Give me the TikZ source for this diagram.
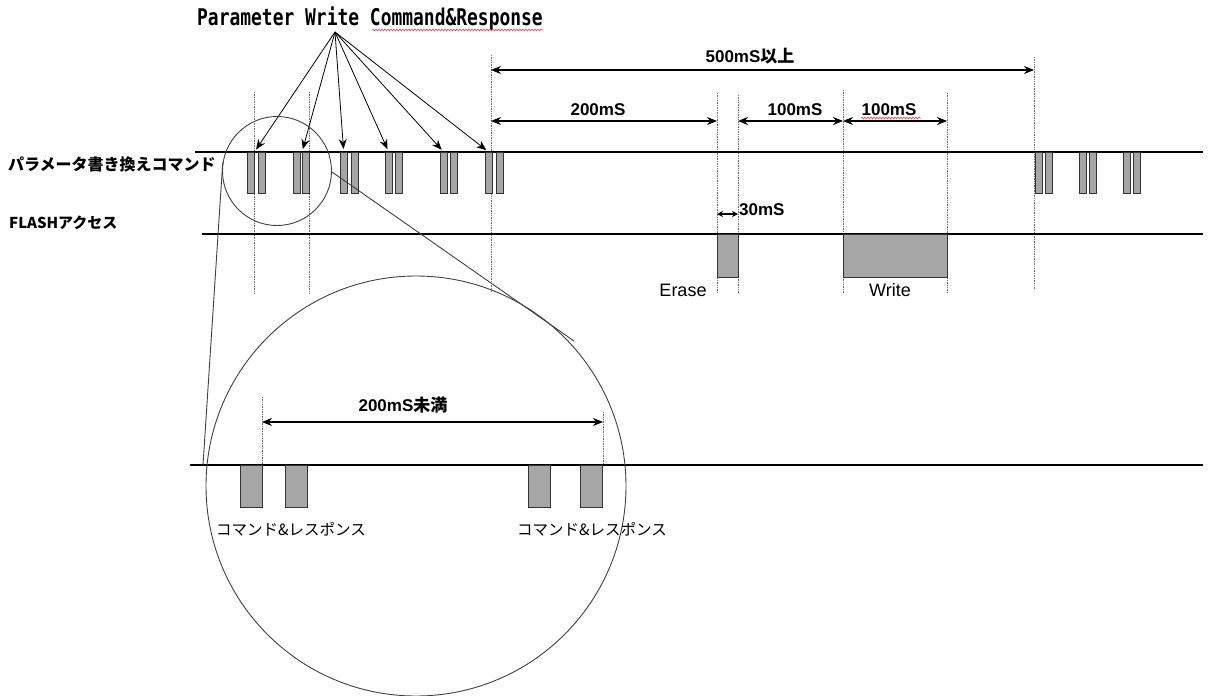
\documentclass[tikz,border=0pt]{standalone}
\usepackage{fontspec}
\usepackage{graphicx}
\setmainfont{Liberation Sans}
\newfontfamily\jpfont{Noto Sans CJK JP}
\newfontfamily\ttlfont{DejaVu Sans Mono}
\usetikzlibrary{arrows.meta,positioning,calc,decorations.pathmorphing}
\definecolor{barfill}{HTML}{A6A6A6}
\definecolor{guidegray}{HTML}{707070}
\definecolor{spellred}{HTML}{E04040}
\newcommand{\fs}[1]{\fontsize{#1}{#1}\selectfont}

\begin{document}
\begin{tikzpicture}[x=1pt, y=-1pt,
    bar/.style={rectangle, draw=black!80, fill=barfill, line width=0.9pt, inner sep=0pt, minimum width=6.5pt, minimum height=41pt, anchor=north west},
    bigbar/.style={bar, minimum width=22pt, minimum height=42pt},
    timeline/.style={line width=1.8pt},
    guide/.style={densely dotted, draw=guidegray, line width=0.7pt},
    ptr/.style={-{Stealth[length=10pt,width=8pt]}, line width=0.8pt},
    dim/.style={{Stealth[length=10pt,width=8pt]}-{Stealth[length=10pt,width=8pt]}, line width=1.1pt},
    lens/.style={circle, draw=black!75, line width=0.9pt, inner sep=0pt},
    lbl/.style={anchor=base, inner sep=0pt, font=\fs{17}\bfseries},
    squig/.style={draw=spellred, line width=0.6pt, decorate, decoration={snake, amplitude=0.9pt, segment length=3pt}}]
    \useasboundingbox (0,0) rectangle (1211,696);

    % title and labels
    \node[anchor=base, inner sep=0pt] (title) at (370,25) {\fs{23}\ttlfont\bfseries\scalebox{0.78}[1]{Parameter Write Command\&Response}};
    \coordinate (apex) at (335,32);
    \node[anchor=west, inner sep=0pt, font=\fs{16}\jpfont\bfseries] (cmdlabel) at (8,164) {パラメータ書き換えコマンド};
    \node[anchor=west, inner sep=0pt, font=\fs{15}\jpfont\bfseries] (flashlabel) at (9,223) {FLASHアクセス};

    % guides
    \foreach \x/\ya/\yb in {254/92/293, 309/92/293, 491/55/293, 717/93/293, 738/95/293, 843/90/293, 947/93/293, 1034/57/289, 262/397/465, 603/412/465}
        \draw[guide] (\x,\ya) -- (\x,\yb);

    % timelines
    \draw[timeline] (195,152) -- (1203,152);
    \draw[timeline] (202,234) -- (1203,234);
    \draw[timeline] (190,465) -- (1203,465);

    % command / response bars
    \foreach \i/\xa/\xb in {1/247/258, 2/293/302, 3/340/351, 4/385/395, 5/440/450, 6/485/496, 7/1035/1045, 8/1079/1089, 9/1123/1133} {
        \node[bar] (c\i a) at (\xa,152) {};
        \node[bar] (c\i b) at (\xb,152) {};
    }

    % pointers from title
    \foreach \t in {c1a.north east, c2b.north west, c3a.north, c4a.north, c5a.north, c6a.north}
        \draw[ptr, shorten >=3pt] (apex) -- (\t);

    % flash access
    \node[bar, minimum width=21pt, minimum height=43pt] (erase) at (717,234) {};
    \node[bar, minimum width=104pt, minimum height=43pt] (write) at (843,234) {};
    \node[anchor=base, inner sep=0pt, font=\fs{18}] at (683,296) {Erase};
    \node[anchor=base, inner sep=0pt, font=\fs{18}] at (890,296) {Write};

    % timings
    \draw[dim] (491,70) -- (1034,70);
    \node[lbl] at (750,62) {500mS{\jpfont\bfseries 以上}};
    \draw[dim] (491,121) -- (717,121);
    \node[lbl] at (598,115) {200mS};
    \draw[dim] (738,121) -- (843,121);
    \node[lbl] at (795,115) {100mS};
    \draw[dim] (843,121) -- (947,121);
    \node[lbl] at (889,115) {100mS};
    \draw[squig] (861,118) -- (921,118);
    \draw[{Stealth[length=6pt,width=6pt]}-{Stealth[length=6pt,width=6pt]}, line width=1.1pt] (717,214) -- (738,214);
    \node[lbl, anchor=base west] at (739,215) {30mS};

    % magnifier
    \node[lens, minimum size=109pt] (lenssmall) at (277,171) {};
    \node[lens, minimum size=420pt] (lensbig) at (416,486) {};
    \coordinate (tanL) at (203,465);
    \coordinate (tanR) at (574,341);
    \draw[black!75, line width=0.9pt] (lenssmall.171.6) -- (tanL);
    \draw[black!75, line width=0.9pt] (lenssmall.-1) -- (tanR);

    % enlarged view
    \foreach \i/\x in {1/240, 2/285, 3/528, 4/580}
        \node[bigbar] (z\i) at (\x,465) {};
    \draw[dim] (262,422) -- (603,422);
    \node[lbl] at (403,411) {200mS{\jpfont\bfseries 未満}};
    \node[anchor=base, inner sep=0pt, font=\fs{15.5}\jpfont] at (291,535) {コマンド\&レスポンス};
    \node[anchor=base, inner sep=0pt, font=\fs{15.5}\jpfont] at (592,535) {コマンド\&レスポンス};

    % spelling marks
    \draw[squig] (372,30) -- (543,30);
\end{tikzpicture}
\end{document}
